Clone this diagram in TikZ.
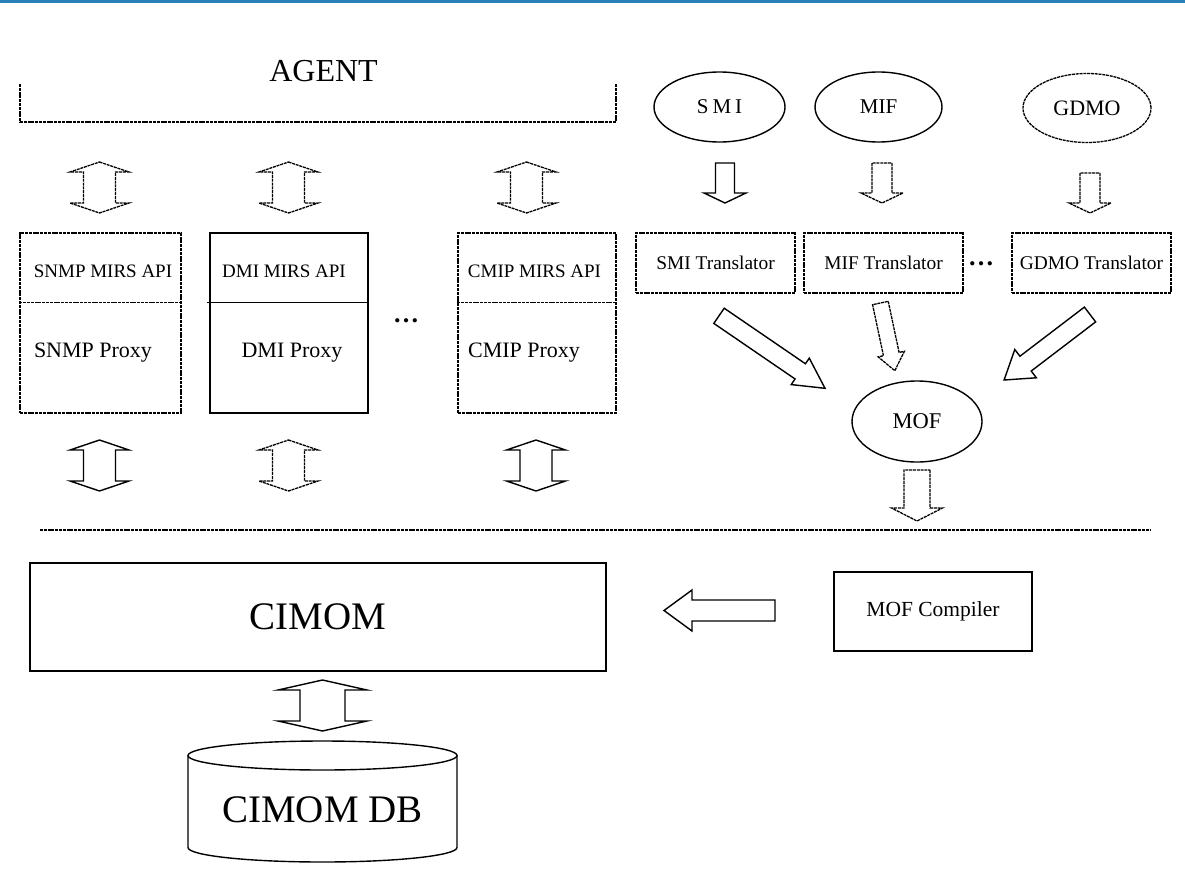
\documentclass[tikz,border=0pt]{standalone}
\usepackage{fontspec}
\setmainfont{Liberation Serif}
\usetikzlibrary{calc,shapes.geometric}
\definecolor{topblue}{RGB}{41,128,185}
% single block arrow: [style]{from}{to}{half shaft}{half head}{head length}
\newcommand\blkone[6][]{%
  \coordinate (bkN) at ($(#3)!#6!(#2)$);
  \draw[#1] ($(#2)!#4!90:(#3)$) -- ($(bkN)!#4!90:(#3)$) -- ($(bkN)!#5!90:(#3)$) -- (#3)
    -- ($(bkN)!#5!-90:(#3)$) -- ($(bkN)!#4!-90:(#3)$) -- ($(#2)!#4!-90:(#3)$) -- cycle;}
% double block arrow
\newcommand\blktwo[6][]{%
  \coordinate (bkM) at ($(#2)!#6!(#3)$);
  \coordinate (bkN) at ($(#3)!#6!(#2)$);
  \draw[#1] (#2) -- ($(bkM)!#5!90:(#3)$) -- ($(bkM)!#4!90:(#3)$) -- ($(bkN)!#4!90:(#3)$) -- ($(bkN)!#5!90:(#3)$) -- (#3)
    -- ($(bkN)!#5!-90:(#3)$) -- ($(bkN)!#4!-90:(#3)$) -- ($(bkM)!#4!-90:(#3)$) -- ($(bkM)!#5!-90:(#3)$) -- cycle;}
\tikzset{
  dsh/.style={line width=1.3pt, dash pattern=on 3pt off 0.8pt},
  sld/.style={line width=1.4pt},
  bx/.style={rectangle, draw, inner sep=0pt},
  lbl/.style={inner sep=0pt, font=\fontsize{#1}{#1}\selectfont},
}
\begin{document}
\begin{tikzpicture}[x=1pt,y=-1pt]
\useasboundingbox (0,0) rectangle (1185,891);
\fill[topblue] (0,0) rectangle (1185,3);

% AGENT
\node[lbl=32] (agent) at (323.5,71) {AGENT};
\draw[dsh] (20,84) -- (20,122) -- (616,122) -- (616,84);

% proxy boxes
\node[bx,dsh,minimum width=161pt,minimum height=180pt] (snmp) at (100.5,323) {};
\draw[dsh] (snmp.north west) ++(0,70) -- ++(161,0);
\node[bx,sld,minimum width=158pt,minimum height=180pt] (dmi) at (289,323) {};
\draw[sld] (dmi.north west) ++(-2,70) -- ++(160,0);
\node[bx,dsh,minimum width=158pt,minimum height=180pt] (cmip) at (537,323) {};
\draw[dsh] (cmip.north west) ++(0,70) -- ++(158,0);

\node[lbl=19] (snmpapi) at (103,271) {SNMP MIRS API};
\node[lbl=22] (snmpprx) at (93,353) {SNMP Proxy};
\node[lbl=19] (dmiapi) at (284,271) {DMI MIRS API};
\node[lbl=22] (dmiprx) at (292,353) {DMI Proxy};
\node[lbl=19] (cmipapi) at (534.5,271) {CMIP MIRS API};
\node[lbl=22] (cmipprx) at (524,353) {CMIP Proxy};
\node[lbl=26] (dots1) at (406,321) {\textbf{…}};

% source ellipses
\node[ellipse,draw,sld,minimum width=131pt,minimum height=70pt,lbl=21] (smi) at (719.5,107) {S\hspace{4pt}M\hspace{4pt}I};
\node[ellipse,draw,sld,minimum width=127pt,minimum height=70pt,lbl=21] (mif) at (878.5,107) {MIF};
\node[ellipse,draw,dsh,minimum width=128pt,minimum height=69pt,lbl=22] (gdmo) at (1087,108) {GDMO};

% translators
\node[bx,dsh,minimum width=159pt,minimum height=60pt,lbl=19.4] (smit) at (715.5,263) {SMI Translator};
\node[bx,dsh,minimum width=159pt,minimum height=60pt,lbl=19.4] (mift) at (883.5,263) {MIF Translator};
\node[bx,dsh,minimum width=159pt,minimum height=60pt,lbl=19.4] (gdmot) at (1091.5,263) {GDMO Translator};
\node[lbl=26] (dots2) at (981,264) {\textbf{…}};

% MOF
\node[ellipse,draw,sld,minimum width=130pt,minimum height=81pt,lbl=22.5] (mof) at (917,421.5) {MOF};

% separator
\coordinate (sepL) at (40,530);
\coordinate (sepR) at (1151,530);
\draw[dsh] (sepL) -- (sepR);

% CIMOM and compiler
\node[bx,sld,minimum width=576pt,minimum height=108pt,lbl=39] (cimom) at (318,617) {CIMOM};
\node[bx,sld,minimum width=198pt,minimum height=79pt,lbl=21.5] (mofc) at (933,611.5) {MOF Compiler};

% database cylinder
\draw[sld] (322.5,755.5) ellipse [x radius=134.5pt, y radius=14.5pt];
\draw[sld] (188,755.5) -- (188,847.5) arc[start angle=180, end angle=360, x radius=134.5pt, y radius=14.5pt] -- (457,755.5);
\node[lbl=39] (db) at (322.5,810) {CIMOM DB};

% arrow end points
\coordinate (ta1a) at (99.5,162);  \coordinate (ta1b) at (99.5,213);
\coordinate (ta2a) at (288.5,162); \coordinate (ta2b) at (288.5,213);
\coordinate (ta3a) at (526.5,162); \coordinate (ta3b) at (526.5,213);
\coordinate (ba1a) at (99.5,440);  \coordinate (ba1b) at (99.5,491);
\coordinate (ba2a) at (288.5,440); \coordinate (ba2b) at (288.5,491);
\coordinate (ba3a) at (536,440);   \coordinate (ba3b) at (536,491);
\coordinate (sa) at (725,163);  \coordinate (sb) at (725,203);
\coordinate (ma) at (882,163);  \coordinate (mb) at (882,203);
\coordinate (ga) at (1090,173); \coordinate (gb) at (1090,213);
\coordinate (d1a) at (719,315.8);   \coordinate (d1b) at (825,388.3);
\coordinate (d2a) at (880.4,303);   \coordinate (d2b) at (894.8,370.7);
\coordinate (d3a) at (1090,314.5);  \coordinate (d3b) at (1004.1,380);
\coordinate (moa) at (917,470); \coordinate (mob) at (917,521);
\coordinate (ca) at (775,610.5); \coordinate (cb) at (664,610.5);
\coordinate (dba) at (322.5,680); \coordinate (dbb) at (322.5,731);

\blktwo[dsh]{ta1a}{ta1b}{16pt}{29.5pt}{10pt}
\blktwo[dsh]{ta2a}{ta2b}{16pt}{29.5pt}{10pt}
\blktwo[dsh]{ta3a}{ta3b}{16pt}{29.5pt}{10pt}
\blktwo[sld]{ba1a}{ba1b}{16pt}{29.5pt}{10pt}
\blktwo[dsh]{ba2a}{ba2b}{16pt}{29.5pt}{10pt}
\blktwo[sld]{ba3a}{ba3b}{16pt}{29.5pt}{10pt}

\blkone[sld]{sa}{sb}{9.5pt}{21pt}{10pt}
\blkone[dsh]{ma}{mb}{10pt}{21pt}{10pt}
\blkone[dsh]{ga}{gb}{10pt}{21pt}{10pt}

\blkone[sld]{d1a}{d1b}{9.2pt}{16pt}{30pt}
\blkone[dsh]{d2a}{d2b}{8pt}{13.4pt}{17pt}
\blkone[sld]{d3a}{d3b}{9.3pt}{17.8pt}{27pt}

\blkone[dsh]{moa}{mob}{13pt}{25.5pt}{13pt}
\blkone[sld]{ca}{cb}{10.5pt}{20.5pt}{28pt}
\blktwo[sld]{dba}{dbb}{22.5pt}{44.5pt}{10pt}
\end{tikzpicture}
\end{document}
